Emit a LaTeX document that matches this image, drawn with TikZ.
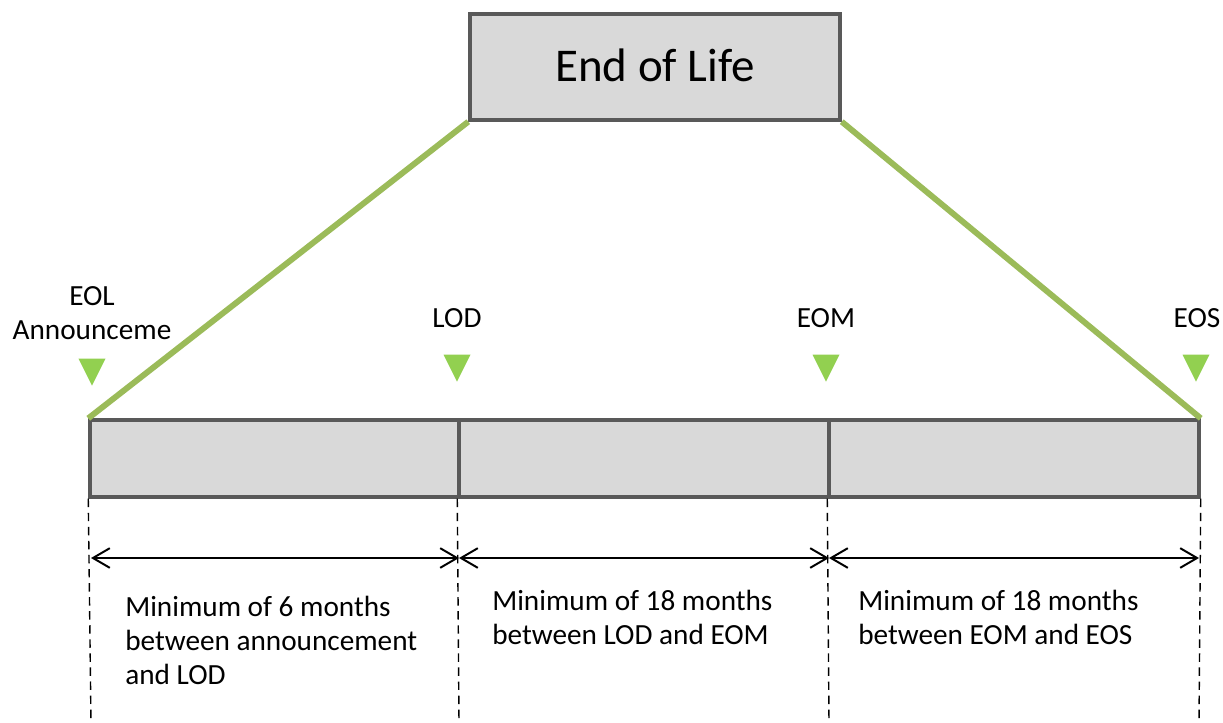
\documentclass[tikz,border=0pt]{standalone}
\usepackage{fontspec}
\setmainfont{Carlito}
\usetikzlibrary{arrows.meta,shapes.geometric}
\definecolor{boxfill}{HTML}{D9D9D9}
\definecolor{boxline}{HTML}{595959}
\definecolor{linkgreen}{HTML}{9BBB59}
\definecolor{tickgreen}{HTML}{92D050}

\begin{document}
\begin{tikzpicture}[x=0.025cm, y=-0.025cm,
  phase/.style={draw=boxline, line width=2.4pt, fill=boxfill, inner sep=0, minimum height=1.925cm},
  tick/.style={isosceles triangle, isosceles triangle stretches, shape border rotate=270,
    minimum width=0.675cm, minimum height=0.675cm, inner sep=0, fill=tickgreen},
  lbl/.style={font=\fontsize{20.8}{24.1}\selectfont, inner sep=0, align=center, anchor=base},
  note/.style={font=\fontsize{20.8}{24.1}\selectfont, inner sep=0, align=left, anchor=base west},
  glink/.style={linkgreen, line width=4.2pt},
  span/.style={line width=1.4pt, {Straight Barb[length=12pt,width=14pt]}-{Straight Barb[length=12pt,width=14pt]}},
  guide/.style={line width=1pt, dash pattern=on 6pt off 4pt}]
\useasboundingbox (0,0) rectangle (1223,723);

% title box
\node[draw=boxline, line width=2.4pt, fill=boxfill, minimum width=9.25cm, minimum height=2.65cm,
  inner sep=0] (eol) at (655,67) {};
\node[font=\fontsize{33.4}{40}\selectfont, anchor=base, inner sep=0] (title) at (655,81) {End of Life};

% the three phases
\node[phase, minimum width=9.225cm] (s1) at (274.5,458.5) {};
\node[phase, minimum width=9.25cm] (s2) at (644,458.5) {};
\node[phase, minimum width=9.25cm] (s3) at (1014,458.5) {};

\draw[glink] (eol.south west) -- (s1.north west);
\draw[glink] (eol.south east) -- (s3.north east);

% milestones
\node[tick] (t1) at (92,367) {};
\node[tick] (t2) at (457,363) {};
\node[tick] (t3) at (826,363) {};
\node[tick] (t4) at (1196,363) {};
\node[lbl] (l1) at (92,339) {EOL\\Announceme};
\node[lbl] (l2) at (457,327) {LOD};
\node[lbl] (l3) at (826,327) {EOM};
\node[lbl] (l4) at (1197,327) {EOS};

% guides and spans
\coordinate (b1) at (91,723);
\coordinate (b2) at (459,723);
\coordinate (b3) at (829,723);
\coordinate (b4) at (1199,723);
\draw[guide] (s1.south west) -- (b1);
\draw[guide] (s2.south west) -- (b2);
\draw[guide] (s3.south west) -- (b3);
\draw[guide] (s3.south east) -- (b4);
\coordinate (a1) at (91,558);
\coordinate (a2) at (459,558);
\coordinate (a3) at (829,558);
\coordinate (a4) at (1199,558);
\draw[span] (a1) -- (a2);
\draw[span] (a2) -- (a3);
\draw[span] (a3) -- (a4);

\node[note] (n1) at (125,684) {Minimum of 6 months\\between announcement\\and LOD};
\node[note] (n2) at (492,644) {Minimum of 18 months\\between LOD and EOM};
\node[note] (n3) at (858,644) {Minimum of 18 months\\between EOM and EOS};
\end{tikzpicture}
\end{document}
